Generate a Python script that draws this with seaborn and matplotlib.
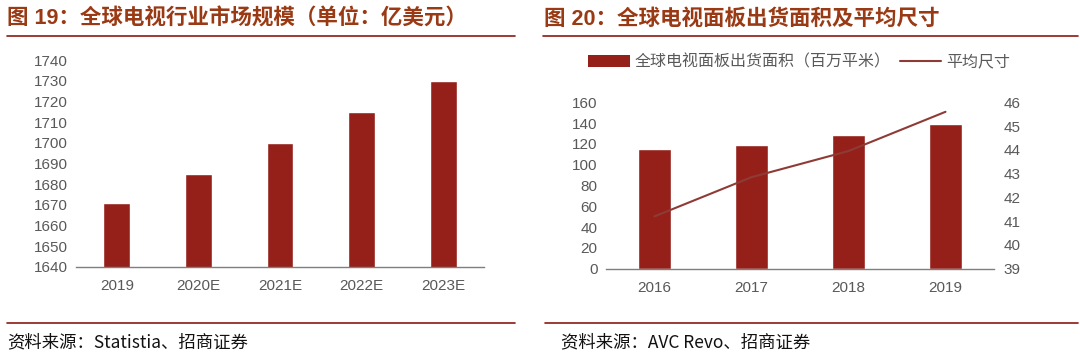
import matplotlib
matplotlib.use("Agg")
import matplotlib.pyplot as plt
from matplotlib.lines import Line2D
from matplotlib.patches import Patch
from matplotlib.ticker import FixedLocator
import seaborn as sns
import pandas as pd

# ---- data ----
left_categories = ["2019", "2020E", "2021E", "2022E", "2023E"]
left_values = [1671, 1685, 1700, 1715, 1730]

right_categories = ["2016", "2017", "2018", "2019"]
right_area = [115, 119, 128.5, 139]
right_size = [41.2, 42.85, 43.95, 45.6]

left_title = "图 19：全球电视行业市场规模（单位：亿美元）"
right_title = "图 20：全球电视面板出货面积及平均尺寸"
left_source = "资料来源：Statistia、招商证券"
right_source = "资料来源：AVC Revo、招商证券"
bar_label = "全球电视面板出货面积（百万平米）"
line_label = "平均尺寸"

sns.set_theme(style="white")
plt.rcParams['font.family'] = ['Liberation Sans', 'Noto Sans CJK SC', 'DejaVu Sans']

BAR = "#95201A"
LINE = "#8E3B36"
TITLE = "#9A3A14"
RULE = "#8B1A12"
TICK = "#595959"

W, H = 1080, 354
fig = plt.figure(figsize=(W / 100, H / 100), dpi=100)
fig.patch.set_facecolor("white")

def px_axes(x0, x1, ytop, ybot):
    return fig.add_axes([x0 / W, 1 - ybot / H, (x1 - x0) / W, (ybot - ytop) / H])

def style_axes(ax, n):
    for s in ["top", "right", "left"]:
        ax.spines[s].set_visible(False)
    ax.spines["bottom"].set_color("#7F7F7F")
    ax.spines["bottom"].set_linewidth(1.0)
    ax.tick_params(axis="x", which="major", length=0, labelsize=11, labelcolor=TICK, pad=9)
    ax.xaxis.set_minor_locator(FixedLocator([i - 0.5 for i in range(n + 1)]))
    ax.tick_params(axis="x", which="minor", length=4, direction="in", color="#7F7F7F")
    ax.tick_params(axis="y", length=0, labelsize=11, labelcolor=TICK, pad=6)
    ax.set_xlim(-0.5, n - 0.5)
    ax.set_xlabel("")
    ax.set_ylabel("")
    ax.grid(False)

# ---- left chart ----
axL = px_axes(76, 484, 60, 266.7)
dfL = pd.DataFrame({"cat": left_categories, "val": left_values})
sns.barplot(data=dfL, x="cat", y="val", color=BAR, width=0.33, saturation=1, ax=axL)
axL.set_ylim(1640, 1740)
axL.set_yticks(range(1640, 1741, 10))
style_axes(axL, len(left_categories))

# ---- right chart ----
axR = px_axes(606, 994, 102.3, 268.7)
dfR = pd.DataFrame({"cat": right_categories, "area": right_area, "size": right_size})
sns.barplot(data=dfR, x="cat", y="area", color=BAR, width=0.33, saturation=1, ax=axR)
axR.set_ylim(0, 160)
axR.set_yticks(range(0, 161, 20))
style_axes(axR, len(right_categories))

axR2 = axR.twinx()
sns.lineplot(x=list(range(len(right_categories))), y=right_size, color=LINE, linewidth=1.5, ax=axR2)
axR2.set_ylim(39, 46)
axR2.set_yticks(range(39, 47))
for s in ["top", "right", "left", "bottom"]:
    axR2.spines[s].set_visible(False)
axR2.tick_params(axis="y", length=0, labelsize=11, labelcolor=TICK, pad=7)
axR2.set_ylabel("")
axR2.grid(False)

# legend
handles = [Patch(facecolor=BAR, edgecolor="none"), Line2D([0], [0], color=LINE, linewidth=1.5)]
fig.legend(handles, [bar_label, line_label], loc="center left",
           bbox_to_anchor=(588 / W, 1 - 62 / H), ncol=2, frameon=False,
           labelcolor=TICK, handlelength=2.6, handleheight=0.75,
           handletextpad=0.3, columnspacing=0.6, borderpad=0, borderaxespad=0,
           prop={"family": ["Noto Sans CJK SC"], "size": 11.5})

# ---- titles, rules, sources ----
fig.text(7 / W, 1 - 19 / H, left_title, fontsize=15.5, fontweight="bold", color=TITLE,
         va="center", ha="left", family=["Liberation Sans", "Noto Sans CJK SC"])
fig.text(544 / W, 1 - 19 / H, right_title, fontsize=15.5, fontweight="bold", color=TITLE,
         va="center", ha="left", family=["Liberation Sans", "Noto Sans CJK SC"])

def hline(x0, x1, y, lw=1.2):
    fig.add_artist(Line2D([x0 / W, x1 / W], [1 - y / H, 1 - y / H], color=RULE, linewidth=lw))

hline(7, 515, 35.5)
hline(543, 1078, 35.5)
hline(7, 515, 323)
hline(545, 1078, 323)

fig.text(7 / W, 1 - 342 / H, left_source, fontsize=12.5, color="#111111", va="center", ha="left",
         family=["Noto Sans CJK SC", "Liberation Sans"])
fig.text(561 / W, 1 - 342 / H, right_source, fontsize=12.5, color="#111111", va="center", ha="left",
         family=["Noto Sans CJK SC", "Liberation Sans"])

fig.savefig("out.png", dpi=100, facecolor="white")
